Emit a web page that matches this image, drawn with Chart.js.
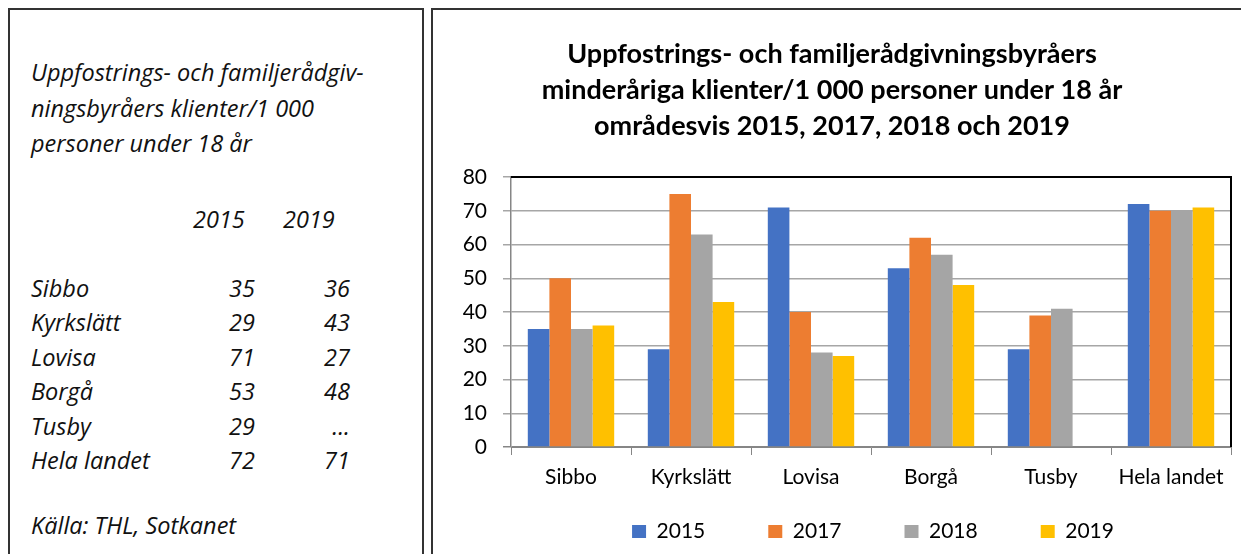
<!DOCTYPE html>
<html>
<head>
<meta charset="utf-8">
<script src="https://cdn.jsdelivr.net/npm/chart.js@4.4.1/dist/chart.umd.min.js"></script>
<style>
body{margin:0;background:#fff;width:1241px;height:554px;overflow:hidden;position:relative;font-family:Lato,'Open Sans',sans-serif}
#left{position:absolute;left:8px;top:8px;width:412px;height:600px;border:2px solid #333}
#right{position:absolute;left:431px;top:8px;width:900px;height:600px;border:2px solid #333}
.t{position:absolute;font-family:'Open Sans',sans-serif;font-style:italic;font-size:23.5px;line-height:24px;color:#111;white-space:nowrap}
.r{text-align:right;width:60px}
#wrap{position:absolute;left:433px;top:10px;width:808px;height:544px}
</style>
</head>
<body>
<div id="left"></div>
<div id="right"></div>
<div id="txt"></div>
<div id="wrap"><canvas id="chart"></canvas></div>
<script>
// data
const areas = ['Sibbo', 'Kyrkslätt', 'Lovisa', 'Borgå', 'Tusby', 'Hela landet']
const years = ['2015', '2017', '2018', '2019']
const v2015 = [35, 29, 71, 53, 29, 72]
const v2017 = [50, 75, 40, 62, 39, 70]
const v2018 = [35, 63, 28, 57, 41, 70]
const v2019 = [36, 43, 27, 48, null, 71]
const yTicks = [0, 10, 20, 30, 40, 50, 60, 70, 80]
const colors = ['#4472C4', '#ED7D31', '#A5A5A5', '#FFC000']
const titleLines = ['Uppfostrings- och familjerådgivningsbyråers', 'minderåriga klienter/1 000 personer under 18 år', 'områdesvis 2015, 2017, 2018 och 2019']
const introLines = ['Uppfostrings- och familjerådgiv-', 'ningsbyråers klienter/1 000', 'personer under 18 år']
const source = 'Källa: THL, Sotkanet'

// left text box (baseline ~ top + 21)
const txt = document.getElementById('txt')
function put(text, x, base, cls){
	const d = document.createElement('div'); d.className = 't ' + (cls||''); d.textContent = text
	d.style.left = x + 'px'; d.style.top = (base - 21) + 'px'; txt.appendChild(d); return d
}
introLines.forEach((l,i) => put(l, 31, 81 + i*35.5))
put('2015', 193, 228); put('2019', 283, 228)
areas.forEach((a,i) => {
	const b = 297 + i*34.4
	put(a, 31, b)
	put(String(v2015[i]), 195, b, 'r')
	put(v2019[i]===null ? '...' : String(v2019[i]), 290, b, 'r')
})
put(source, 31, 534)

const font = 'Lato, "Open Sans", sans-serif'
const borderPlugin = {
	id: 'frame',
	afterDatasetsDraw(chart){
		const {ctx, chartArea: a} = chart
		ctx.save(); ctx.strokeStyle = '#000'; ctx.lineWidth = 2
		ctx.beginPath(); ctx.moveTo(a.left, a.top); ctx.lineTo(a.right, a.top); ctx.lineTo(a.right, a.bottom); ctx.stroke()
		ctx.restore()
	},
	afterLayout(chart){
		// keep wide horizontal gaps between legend items without a tall legend box
		const lg = chart.legend
		lg.top = 511 - lg.options.labels.padding
		lg.left += 82
	}
}

const sets = [v2015, v2017, v2018, v2019]
new Chart(document.getElementById('chart'), {
	type: 'bar',
	data: {
		labels: areas,
		datasets: sets.map((d,i) => ({ label: years[i], data: d, backgroundColor: colors[i], categoryPercentage: 0.72, barPercentage: 1 }))
	},
	plugins: [borderPlugin],
	options: {
		responsive: true, maintainAspectRatio: false, animation: false,
		layout: { padding: { left: 0, right: 10, top: 0, bottom: 0 } },
		plugins: {
			title: { display: true, text: titleLines, color: '#000', font: { family: font, size: 27, weight: 'bold', lineHeight: '36px' }, padding: { top: 26, bottom: 33 } },
			legend: { position: 'bottom', maxHeight: 37, labels: { color: '#000', font: { family: font, size: 21 }, boxWidth: 14, boxHeight: 13, padding: 63 } },
			tooltip: { enabled: false }
		},
		scales: {
			x: {
				grid: { offset: true, drawOnChartArea: false, tickLength: 8, color: '#868686' },
				border: { color: '#868686' },
				ticks: { color: '#000', font: { family: font, size: 21 }, padding: 10, maxRotation: 0 },
				afterFit(s){ s.height = 70 }
			},
			y: {
				min: 0, max: 80,
				afterBuildTicks(s){ s.ticks = yTicks.map(v => ({ value: v })) },
				grid: { tickLength: 8, color: c => c.tick && c.tick.value === 0 ? '#868686' : '#a6a6a6', lineWidth: 1.5 },
				border: { color: '#868686', width: 1.5 },
				ticks: { color: '#000', font: { family: font, size: 21 }, padding: 16 },
				afterFit(s){ s.width = 78 }
			}
		}
	}
})
</script>
</body>
</html>
